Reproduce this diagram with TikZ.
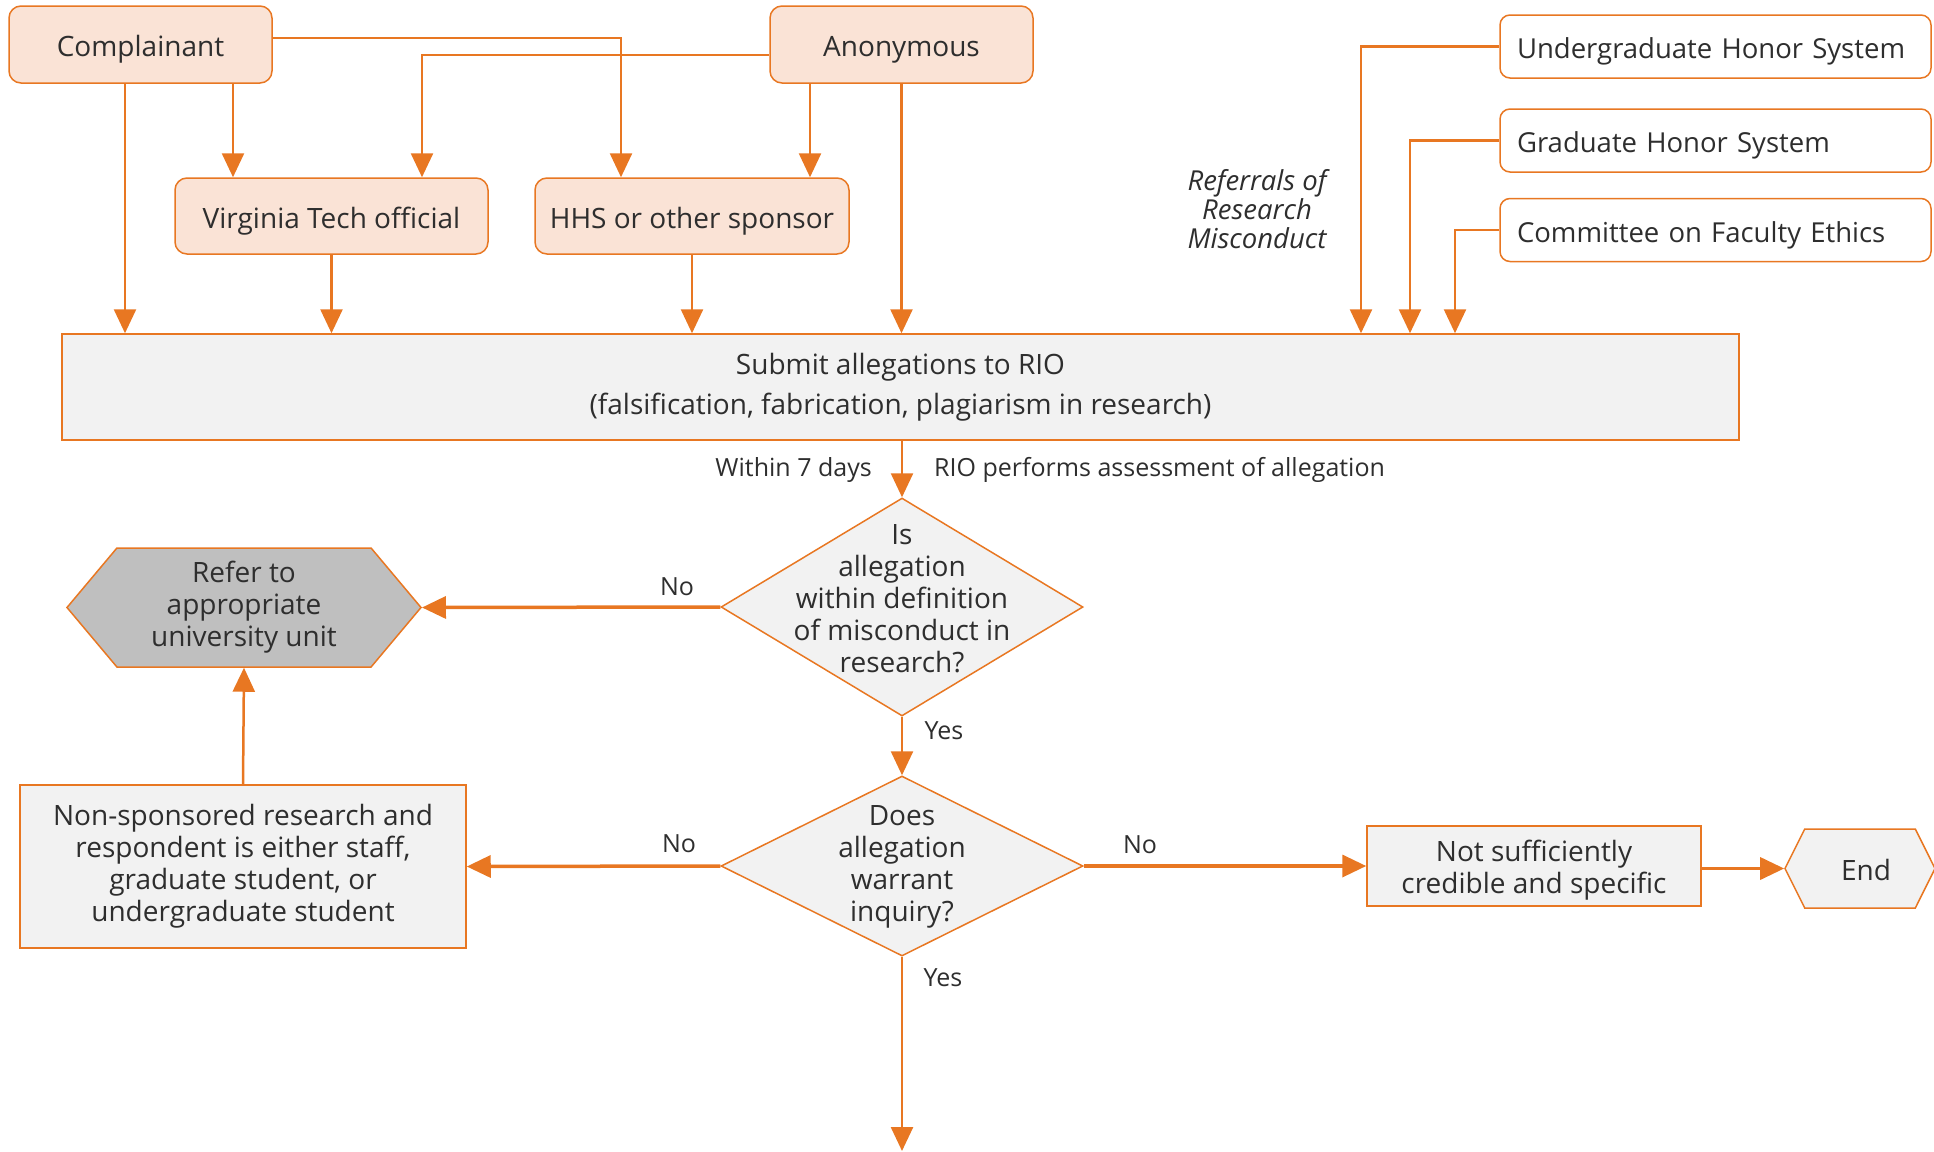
\documentclass[tikz,border=0pt]{standalone}
\usepackage{fontspec}
\setmainfont{Open Sans}
\usetikzlibrary{arrows.meta,shapes.geometric,shapes.symbols}
\definecolor{vtorange}{HTML}{E87722}
\definecolor{peach}{HTML}{FAE3D6}
\definecolor{panel}{HTML}{F2F2F2}
\definecolor{hexgray}{HTML}{BFBFBF}
\definecolor{ink}{HTML}{2E2E2E}
\newcommand\mainfs{\fontsize{28}{32}\selectfont}
\newcommand\labfs{\fontsize{25}{29}\selectfont}
\tikzset{
  oneline/.style={text height=26pt, text depth=2pt},
  src/.style={draw=vtorange, line width=1.5pt, fill=peach, rounded corners=12pt,
    text=ink, font=\mainfs, inner sep=0pt, align=center, oneline},
  refbox/.style={draw=vtorange, line width=1.5pt, fill=white, rounded corners=10pt,
    text=ink, font=\fontsize{27.5}{32}\selectfont, minimum width=431pt, minimum height=63pt,
    text width=397pt, inner xsep=17pt, inner ysep=0pt, align=left, oneline},
  panelbox/.style={draw=vtorange, line width=1.5pt, fill=panel, text=ink,
    font=\mainfs, inner sep=0pt, align=center},
  decision/.style={diamond, draw=vtorange, line width=1.5pt, fill=panel, inner sep=0pt},
  dtext/.style={text=ink, font=\mainfs, align=center, inner sep=0pt},
  hexnode/.style={signal, signal to=west and east, draw=vtorange, line width=1.5pt,
    text=ink, font=\mainfs, align=center, inner sep=0pt},
  lab/.style={text=ink, font=\labfs, inner sep=0pt},
  arr/.style={draw=vtorange, line width=2.5pt, -{Triangle[width=22pt,length=24pt]}},
  thickarr/.style={arr, line width=3.5pt},
}
\begin{document}
\begin{tikzpicture}[x=1pt,y=-1pt]
\useasboundingbox (0,0) rectangle (1934,1151);

% sources of allegations
\node[src, minimum width=263pt, minimum height=77pt] (comp) at (140.5,44.5) {Complainant};
\node[src, minimum width=263pt, minimum height=77pt] (anon) at (901.5,44.5) {Anonymous};
\node[src, minimum width=313pt, minimum height=76pt] (vt) at (331.5,216) {Virginia Tech official};
\node[src, minimum width=314pt, minimum height=76pt] (hhs) at (692,216) {HHS or other sponsor};

% referring bodies
\node[refbox] (ugh) at (1715.5,46.5) {Undergraduate Honor System};
\node[refbox] (grh) at (1715.5,140.5) {Graduate Honor System};
\node[refbox] (cfe) at (1715.5,230) {Committee on Faculty Ethics};
\node[text=ink, font=\itshape\fontsize{27.5}{29}\selectfont, align=center, inner sep=0pt]
  (refl) at (1257,209) {Referrals of\\Research\\Misconduct};

% submission
\node[panelbox, minimum width=1677pt, minimum height=106pt, font=\fontsize{28}{40}\selectfont]
  (sub) at (900.5,387) {Submit allegations to RIO\\(falsification, fabrication, plagiarism in research)};

% decisions
\node[decision, minimum width=362pt, minimum height=218pt] (d1) at (902,607) {};
\node[dtext] (d1t) at (902,599) {Is\\allegation\\within definition\\of misconduct in\\research?};
\node[decision, minimum width=362pt, minimum height=180pt] (d2) at (902,866) {};
\node[dtext] (d2t) at (902,866.5) {Does\\allegation\\warrant\\inquiry?};

% outcomes
\node[hexnode, fill=hexgray, signal pointer angle=100, minimum width=354pt, minimum height=119pt]
  (refer) at (244,607.5) {Refer to\\appropriate\\university unit};
\node[panelbox, minimum width=446pt, minimum height=163pt] (nons) at (243,866.5)
  {Non-sponsored research and\\respondent is either staff,\\graduate student, or\\undergraduate student};
\node[panelbox, minimum width=334pt, minimum height=80pt]
  (ns) at (1534,866) {\rule{0pt}{30pt}Not sufficiently\\credible and specific};
\node[hexnode, fill=panel, signal pointer angle=127, minimum width=150pt, minimum height=79pt,
  oneline] (end) at (1860,868.5) {\hspace*{12pt}End};

% helper columns for the connectors
\coordinate (c1) at (125,0);
\coordinate (c2) at (233,0);
\coordinate (c3) at (621,38);
\coordinate (c4) at (422,55);
\coordinate (c5) at (810,0);
\coordinate (c9) at (1361,0);
\coordinate (c10) at (1410,0);
\coordinate (c11) at (1455,0);
\coordinate (bottom) at (902,1151);

% connectors from the sources
\draw[arr] (comp.south -| c1) -- (sub.north -| c1);
\draw[arr] (comp.south -| c2) -- (vt.north -| c2);
\draw[arr] (comp.east |- c3) -| (hhs.north -| c3);
\draw[arr] (anon.west |- c4) -| (vt.north -| c4);
\draw[arr] (anon.south -| c5) -- (hhs.north -| c5);
\draw[arr] (anon.south) -- (anon.south |- sub.north);
\draw[arr] (vt.south) -- (vt.south |- sub.north);
\draw[arr] (hhs.south) -- (hhs.south |- sub.north);
\draw[arr] (ugh.west) -| (sub.north -| c9);
\draw[arr] (grh.west) -| (sub.north -| c10);
\draw[arr] (cfe.west) -| (sub.north -| c11);

% assessment flow
\draw[arr] (sub.south -| d1.north) -- (d1.north);
\node[lab, anchor=east] (w7) at (872,470) {Within 7 days};
\node[lab, anchor=west] (rio) at (934,470) {RIO performs assessment of allegation};

\draw[thickarr] (d1.west) -- (refer.east);
\node[lab] (no1) at (677,587) {No};
\draw[arr] (d1.south) -- (d2.north);
\node[lab] (yes1) at (944,731) {Yes};

\draw[thickarr] (d2.west) -- (nons.east);
\node[lab] (no2) at (679,844) {No};
\draw[arr] (nons.north) -- (refer.south);
\draw[thickarr] (d2.east) -- (ns.west);
\node[lab] (no3) at (1140,845) {No};
\draw[thickarr] (ns.east |- end.west) -- (end.west);
\draw[arr] (d2.south) -- (bottom);
\node[lab] (yes2) at (943,978) {Yes};
\end{tikzpicture}
\end{document}
